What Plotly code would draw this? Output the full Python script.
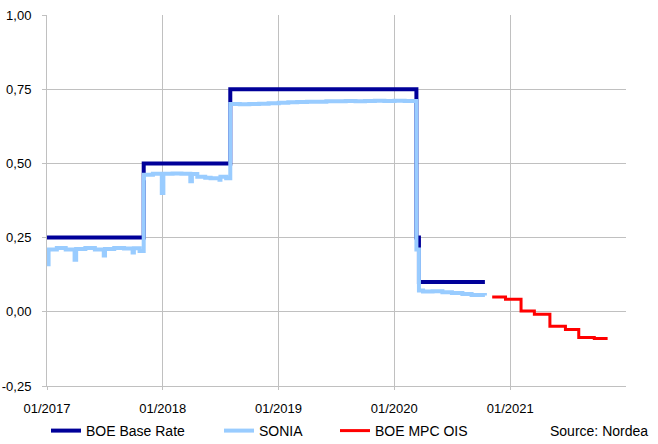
import plotly.graph_objects as go

# ---- data ----
base_dates = ["2017-01-01", "2017-11-02", "2018-08-02", "2020-03-11", "2020-03-19", "2020-10-13"]
base_vals = [0.25, 0.50, 0.75, 0.25, 0.10, 0.10]

sonia_dates = [
    "2017-01-01", "2017-01-06", "2017-02-01", "2017-03-01", "2017-03-29", "2017-04-03",
    "2017-05-02", "2017-06-01", "2017-06-29", "2017-07-03", "2017-08-01", "2017-09-01",
    "2017-09-28", "2017-10-02", "2017-10-20", "2017-11-02", "2017-11-03", "2017-12-01",
    "2017-12-29", "2018-01-03", "2018-02-01", "2018-03-01", "2018-03-29", "2018-04-03",
    "2018-04-20", "2018-05-15", "2018-06-01", "2018-06-29", "2018-07-02", "2018-07-20",
    "2018-08-02", "2018-09-01", "2018-10-01", "2018-11-01", "2018-12-01", "2019-01-02",
    "2019-02-01", "2019-03-01", "2019-04-01", "2019-05-01", "2019-06-01", "2019-07-01",
    "2019-08-01", "2019-09-01", "2019-10-01", "2019-11-01", "2019-12-01", "2020-01-02",
    "2020-02-03", "2020-03-11", "2020-03-19", "2020-04-01", "2020-05-01", "2020-06-01",
    "2020-07-01", "2020-08-03", "2020-09-01", "2020-10-13",
]
sonia_vals = [
    0.16, 0.21, 0.215, 0.21, 0.175, 0.212,
    0.215, 0.21, 0.19, 0.212, 0.215, 0.213,
    0.20, 0.214, 0.205, 0.45, 0.462, 0.465,
    0.40, 0.465, 0.466, 0.465, 0.44, 0.464,
    0.455, 0.452, 0.45, 0.445, 0.455, 0.45,
    0.70, 0.699, 0.70, 0.701, 0.703, 0.704,
    0.706, 0.707, 0.708, 0.708, 0.709, 0.709,
    0.71, 0.709, 0.71, 0.711, 0.71, 0.711,
    0.71, 0.21, 0.072, 0.068, 0.069, 0.066,
    0.063, 0.06, 0.057, 0.055,
]

ois_dates = ["2020-11-05", "2020-12-17", "2021-02-04", "2021-03-18", "2021-05-06",
             "2021-06-24", "2021-08-05", "2021-09-23", "2021-11-04"]
ois_vals = [0.050, 0.042, 0.003, -0.008, -0.049, -0.060, -0.087, -0.090, -0.090]

y_ticks = [-0.25, 0.0, 0.25, 0.5, 0.75, 1.0]
y_ticktext = ["-0,25", "0,00", "0,25", "0,50", "0,75", "1,00"]
x_ticks = ["2017-01-01", "2018-01-01", "2019-01-01", "2020-01-01", "2021-01-01"]
x_ticktext = ["01/2017", "01/2018", "01/2019", "01/2020", "01/2021"]

FONT = "Liberation Sans, Arial, sans-serif"
GRID = "#C0C0C0"
L, R, T, B = 47, 32, 15, 58
PW, PH = 658 - L - R, 444 - T - B


def px_x(x):
    return (x - L) / PW


def px_y(y):
    return (444 - B - y) / PH


fig = go.Figure()
fig.add_trace(go.Scatter(x=base_dates, y=base_vals, mode="lines", name="BOE Base Rate",
                         line=dict(color="#000099", width=4, shape="hv"), legend="legend"))
fig.add_trace(go.Scatter(x=sonia_dates, y=sonia_vals, mode="lines", name="SONIA",
                         line=dict(color="#99CCFF", width=4, shape="hv"), legend="legend2"))
fig.add_trace(go.Scatter(x=ois_dates, y=ois_vals, mode="lines", name="BOE MPC OIS",
                         line=dict(color="#FF0000", width=3, shape="hv"), legend="legend3"))

leg_common = dict(orientation="h", xref="paper", yref="paper", yanchor="middle",
                  y=px_y(431), xanchor="left", bgcolor="rgba(0,0,0,0)",
                  font=dict(family=FONT, size=14, color="#000000"))

fig.update_layout(
    width=658, height=444,
    margin=dict(l=L, r=R, t=T, b=B, autoexpand=False),
    paper_bgcolor="white", plot_bgcolor="white",
    font=dict(family=FONT, size=13, color="#000000"),
    showlegend=True,
    legend=dict(**leg_common, x=px_x(46)),
    legend2=dict(**leg_common, x=px_x(219)),
    legend3=dict(**leg_common, x=px_x(335)),
    xaxis=dict(range=["2017-01-01", "2022-01-01"], tickvals=x_ticks, ticktext=x_ticktext,
               showgrid=True, gridcolor=GRID, gridwidth=1, showline=True, linecolor=GRID,
               ticks="outside", ticklen=3, tickcolor=GRID, ticklabelstandoff=7,
               automargin=False,
               tickfont=dict(family=FONT, size=13, color="#000000"), zeroline=False),
    yaxis=dict(range=[-0.25, 1.0], tickvals=y_ticks, ticktext=y_ticktext,
               showgrid=True, gridcolor=GRID, gridwidth=1, showline=True, linecolor=GRID,
               ticks="outside", ticklen=4, tickcolor=GRID, ticklabelstandoff=8,
               automargin=False,
               tickfont=dict(family=FONT, size=13, color="#000000"), zeroline=False),
    annotations=[dict(text="Source: Nordea", xref="paper", yref="paper",
                      x=px_x(650), y=px_y(431), xanchor="right", yanchor="middle",
                      showarrow=False, font=dict(family=FONT, size=14, color="#000000"))],
)

fig.write_html("out.html", config={"displayModeBar": False},
               post_script="document.body.style.margin='0';document.body.style.overflow='hidden';")
